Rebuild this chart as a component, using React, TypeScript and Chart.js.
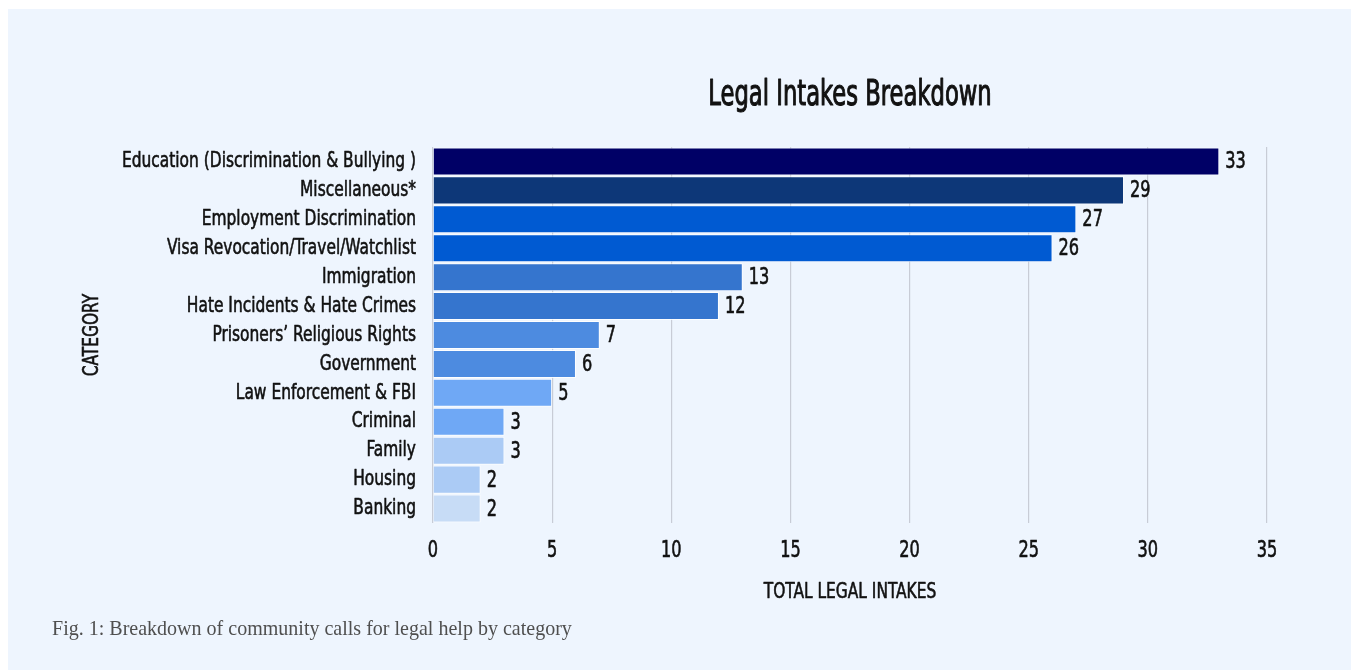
import React, { useEffect, useRef } from "react";
import { Chart, registerables } from "chart.js";

Chart.register(...registerables);

const categories: string[] = [
  "Education (Discrimination & Bullying )",
  "Miscellaneous*",
  "Employment Discrimination",
  "Visa Revocation/Travel/Watchlist",
  "Immigration",
  "Hate Incidents & Hate Crimes",
  "Prisoners\u2019 Religious Rights",
  "Government",
  "Law Enforcement & FBI",
  "Criminal",
  "Family",
  "Housing",
  "Banking",
];

const intakes: number[] = [33, 29, 27, 26, 13, 12, 7, 6, 5, 3, 3, 2, 2];

const barColors: string[] = [
  "#000066",
  "#0D3778",
  "#005AD2",
  "#005AD2",
  "#3575CE",
  "#3575CE",
  "#4D8BE0",
  "#4D8BE0",
  "#6FA8F5",
  "#6FA8F5",
  "#ABCBF5",
  "#ABCBF5",
  "#C7DCF6",
];

const xTicks: number[] = [0, 5, 10, 15, 20, 25, 30, 35];

const chartTitle = "Legal Intakes Breakdown";
const xTitle = "TOTAL LEGAL INTAKES";
const yTitle = "CATEGORY";
const caption = "Fig. 1: Breakdown of community calls for legal help by category";

const NARROW = "'DejaVu Sans Condensed', 'Liberation Sans Narrow', sans-serif";

// Make canvas text look like a tall condensed display face by squeezing it horizontally
// and thickening the strokes slightly.
function condenseText(ctx: CanvasRenderingContext2D) {
  const anyCtx = ctx as any;
  if (anyCtx.__condensed) return;
  anyCtx.__condensed = true;
  const orig = ctx.fillText.bind(ctx);
  const origStroke = ctx.strokeText.bind(ctx);
  ctx.fillText = function (text: string, x: number, y: number, maxWidth?: number) {
    const m = /(\d+(?:\.\d+)?)px/.exec(ctx.font);
    const size = m ? parseFloat(m[1]) : 12;
    const sx = size >= 30 ? 0.7 : 0.78;
    ctx.save();
    ctx.translate(x, y);
    ctx.scale(sx, 1);
    ctx.strokeStyle = ctx.fillStyle as any;
    ctx.lineWidth = size >= 30 ? 1.1 : 0.6;
    ctx.lineJoin = "round";
    if (maxWidth !== undefined) {
      origStroke(text, 0, 0, maxWidth / sx);
      orig(text, 0, 0, maxWidth / sx);
    } else {
      origStroke(text, 0, 0);
      orig(text, 0, 0);
    }
    ctx.restore();
  } as any;
}

const valueLabels = {
  id: "valueLabels",
  afterDatasetsDraw(chart: any) {
    const ctx = chart.ctx;
    const meta = chart.getDatasetMeta(0);
    const data = chart.data.datasets[0].data as number[];
    ctx.save();
    ctx.font = `23px ${NARROW}`;
    ctx.fillStyle = "#111111";
    ctx.textAlign = "left";
    ctx.textBaseline = "middle";
    meta.data.forEach((bar: any, i: number) => {
      ctx.fillText(String(data[i]), bar.x + 6, bar.y + 1);
    });
    ctx.restore();
  },
};

export default function App() {
  const canvasRef = useRef<HTMLCanvasElement | null>(null);

  useEffect(() => {
    if (!canvasRef.current) return;
    const ctx2d = canvasRef.current.getContext("2d");
    if (ctx2d) condenseText(ctx2d);
    const chart = new Chart(canvasRef.current, {
      type: "bar",
      data: {
        labels: categories,
        datasets: [
          {
            data: intakes,
            backgroundColor: barColors,
            borderColor: "rgba(255,255,255,0.85)",
            borderWidth: 1,
            barPercentage: 0.97,
            categoryPercentage: 1,
          },
        ],
      },
      options: {
        indexAxis: "y",
        animation: false,
        responsive: false,
        maintainAspectRatio: false,
        layout: { padding: { left: 71, right: 84, top: 0, bottom: 0 } },
        plugins: {
          legend: { display: false },
          tooltip: { enabled: false },
          title: {
            display: true,
            text: chartTitle,
            fullSize: false,
            color: "#111111",
            font: { family: NARROW, size: 36, weight: "normal", lineHeight: 1.2 },
            padding: { top: 65.4, bottom: 29.4 },
          },
        },
        scales: {
          x: {
            min: 0,
            max: 35,
            afterBuildTicks: (scale: any) => {
              scale.ticks = xTicks.map((v) => ({ value: v }));
            },
            afterFit: (scale: any) => {
              scale.height = 147;
            },
            grid: {
              color: "#C8CCD6",
              lineWidth: 1.2,
              drawTicks: false,
            },
            border: { display: false },
            ticks: {
              color: "#111111",
              font: { family: NARROW, size: 23 },
              padding: 14.2,
            },
            title: {
              display: true,
              text: xTitle,
              color: "#111111",
              font: { family: NARROW, size: 22 },
              padding: { top: 0, bottom: 64.8 },
            },
          },
          y: {
            afterFit: (scale: any) => {
              scale.width = 354;
            },
            grid: { display: false, drawTicks: false },
            border: { display: false },
            ticks: {
              color: "#111111",
              font: { family: NARROW, size: 22 },
              padding: 17,
              autoSkip: false,
            },
            title: {
              display: true,
              text: yTitle,
              color: "#111111",
              font: { family: NARROW, size: 22 },
              padding: { top: 0, bottom: 0 },
            },
          },
        },
      },
      plugins: [valueLabels],
    });
    return () => chart.destroy();
  }, []);

  return (
    <div
      style={{
        position: "absolute",
        left: 8,
        top: 9,
        width: 1343,
        height: 661,
        background: "#EEF5FE",
        overflow: "hidden",
      }}
    >
      <canvas
        ref={canvasRef}
        width={1343}
        height={661}
        style={{ position: "absolute", left: 0, top: 0, width: 1343, height: 661 }}
      />
      <div
        style={{
          position: "absolute",
          left: 44,
          top: 606,
          fontFamily: "'Liberation Serif', 'DejaVu Serif', serif",
          fontSize: 22,
          color: "#4F4F4F",
          whiteSpace: "nowrap",
          transform: "scaleX(0.91)",
          transformOrigin: "left center",
        }}
      >
        {caption}
      </div>
    </div>
  );
}
